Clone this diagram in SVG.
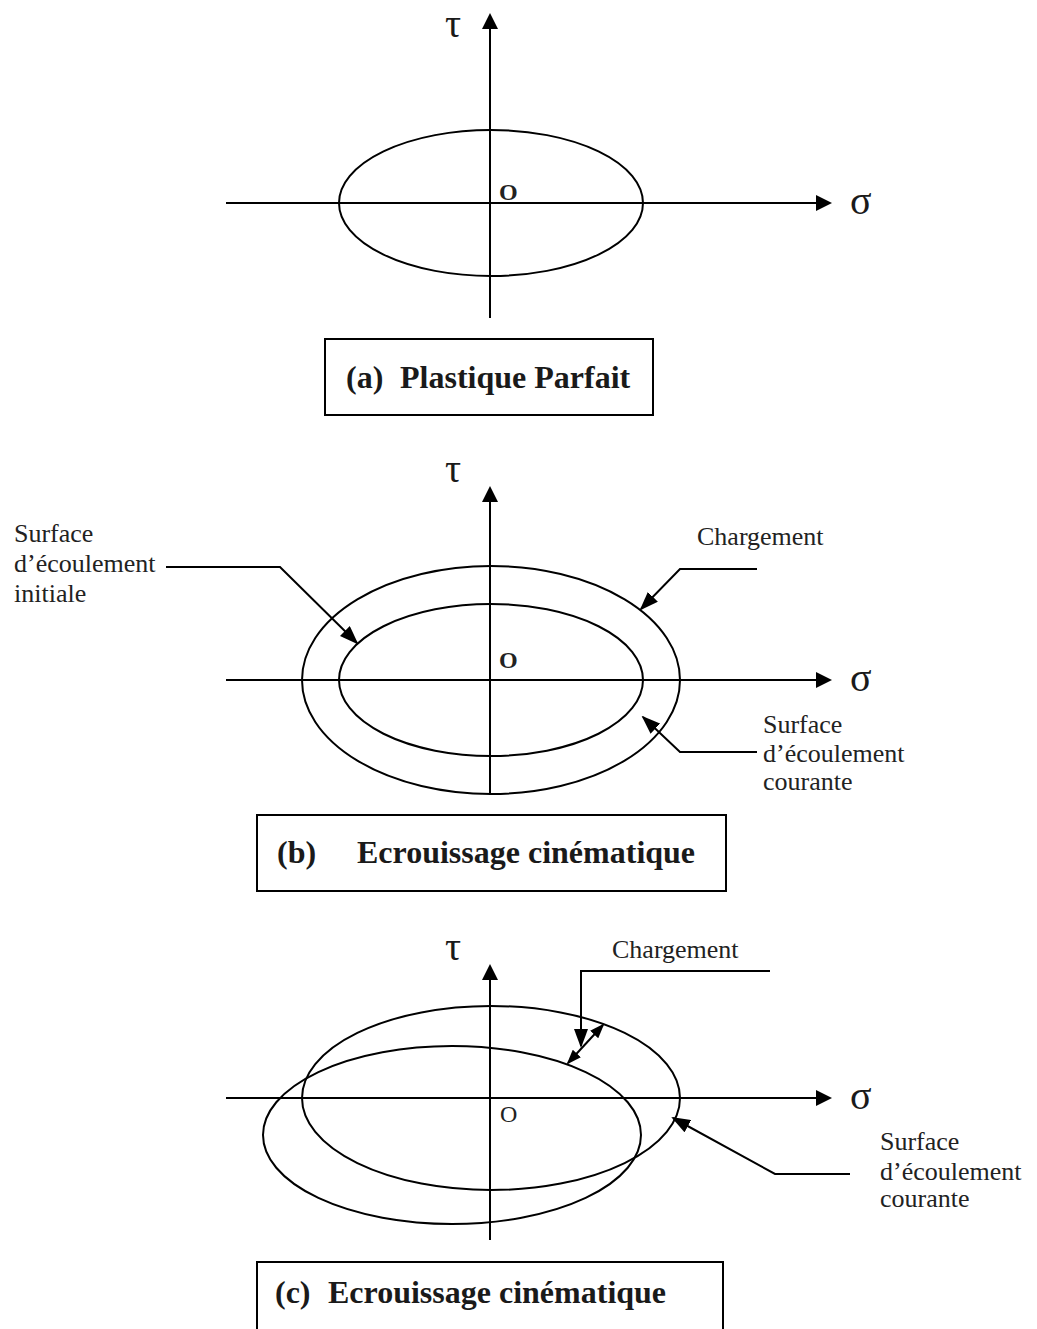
<svg xmlns="http://www.w3.org/2000/svg" width="1037" height="1329" viewBox="0 0 1037 1329">
  <style>
    .axis { stroke: #000; stroke-width: 2; fill: none; }
    .curve { stroke: #000; stroke-width: 2; fill: none; }
    .lead { stroke: #000; stroke-width: 2; fill: none; }
    .box { stroke: #000; stroke-width: 2; fill: #fff; }
    .greek { font-family: "Liberation Serif", "DejaVu Serif", serif; font-size: 40px; fill: #1a1a1a; }
    .lbl { font-family: "Liberation Serif", serif; font-size: 26px; fill: #222; }
    .title { font-family: "Liberation Serif", serif; font-size: 32px; font-weight: bold; fill: #1a1a1a; }
    .ob { font-family: "Liberation Serif", serif; font-size: 24px; font-weight: bold; fill: #222; }
    .or { font-family: "Liberation Serif", serif; font-size: 24px; fill: #222; }
  </style>
  <defs>
    <marker id="axisHead" markerUnits="userSpaceOnUse" markerWidth="16" markerHeight="16" refX="13" refY="8" orient="auto">
      <path d="M0,0 L16,8 L0,16 z" fill="#000"/>
    </marker>
    <marker id="leadHead" markerUnits="userSpaceOnUse" markerWidth="19" markerHeight="14" refX="17" refY="7" orient="auto">
      <path d="M0,0 L19,7 L0,14 z" fill="#000"/>
    </marker>
    <marker id="smallHead" markerUnits="userSpaceOnUse" markerWidth="15" markerHeight="11" refX="13" refY="5.5" orient="auto-start-reverse">
      <path d="M0,0 L15,5.5 L0,11 z" fill="#000"/>
    </marker>
  </defs>

  <rect width="1037" height="1329" fill="#fff"/>

  <!-- (a) perfectly plastic -->
  <g id="panel-a">
    <line class="axis" x1="490" y1="318" x2="490" y2="16" marker-end="url(#axisHead)"/>
    <line class="axis" x1="226" y1="203" x2="829" y2="203" marker-end="url(#axisHead)"/>
    <ellipse class="curve" cx="491" cy="203" rx="152" ry="73"/>
    <text class="greek" x="445" y="37">τ</text>
    <text class="greek" x="850" y="214">σ</text>
    <text class="ob" x="499" y="200">O</text>
  </g>
  <g id="caption-a">
    <rect class="box" x="325" y="339" width="328" height="76"/>
    <text class="title" x="346" y="388">(a)</text>
    <text class="title" x="400" y="388">Plastique Parfait</text>
  </g>

  <!-- (b) kinematic hardening, concentric surfaces -->
  <g id="panel-b">
    <line class="axis" x1="490" y1="795" x2="490" y2="489" marker-end="url(#axisHead)"/>
    <line class="axis" x1="226" y1="680" x2="829" y2="680" marker-end="url(#axisHead)"/>
    <ellipse class="curve" cx="491" cy="680" rx="189" ry="114"/>
    <ellipse class="curve" cx="491" cy="680" rx="152" ry="76"/>
    <text class="greek" x="445" y="482">τ</text>
    <text class="greek" x="850" y="691">σ</text>
    <text class="ob" x="499" y="668">O</text>
  </g>
  <g id="label-b-initiale">
    <text class="lbl" x="14" y="542">Surface</text>
    <text class="lbl" x="14" y="572">d’écoulement</text>
    <text class="lbl" x="14" y="602">initiale</text>
  </g>
  <g id="label-b-chargement">
    <text class="lbl" x="697" y="545">Chargement</text>
  </g>
  <g id="label-b-courante">
    <text class="lbl" x="763" y="733">Surface</text>
    <text class="lbl" x="763" y="762">d’écoulement</text>
    <text class="lbl" x="763" y="790">courante</text>
  </g>
  <g id="caption-b">
    <rect class="box" x="257" y="815" width="469" height="76"/>
    <text class="title" x="277" y="863">(b)</text>
    <text class="title" x="357" y="863">Ecrouissage cinématique</text>
  </g>

  <!-- (c) kinematic hardening, translated surface -->
  <g id="panel-c">
    <line class="axis" x1="490" y1="1240" x2="490" y2="967" marker-end="url(#axisHead)"/>
    <line class="axis" x1="226" y1="1098" x2="829" y2="1098" marker-end="url(#axisHead)"/>
    <ellipse class="curve" cx="491" cy="1098" rx="189" ry="92"/>
    <ellipse class="curve" cx="452" cy="1135" rx="189" ry="89"/>
    <text class="greek" x="445" y="960">τ</text>
    <text class="greek" x="850" y="1109">σ</text>
    <text class="or" x="500" y="1122">O</text>
  </g>
  <g id="label-c-chargement">
    <text class="lbl" x="612" y="958">Chargement</text>
  </g>
  <g id="label-c-courante">
    <text class="lbl" x="880" y="1150">Surface</text>
    <text class="lbl" x="880" y="1180">d’écoulement</text>
    <text class="lbl" x="880" y="1207">courante</text>
  </g>
  <g id="caption-c">
    <rect class="box" x="257" y="1262" width="466" height="80"/>
    <text class="title" x="275" y="1303">(c)</text>
    <text class="title" x="328" y="1303">Ecrouissage cinématique</text>
  </g>

  <!-- leader lines -->
  <g id="connectors">
    <polyline class="lead" points="166,567 280,567 357,643" marker-end="url(#leadHead)"/>
    <polyline class="lead" points="757,569 680,569 641,609" marker-end="url(#leadHead)"/>
    <polyline class="lead" points="757,752 680,752 643,717" marker-end="url(#leadHead)"/>
    <polyline class="lead" points="770,971 581,971 581,1046" marker-end="url(#leadHead)"/>
    <line class="lead" x1="568" y1="1063" x2="603" y2="1025" marker-start="url(#smallHead)" marker-end="url(#smallHead)"/>
    <polyline class="lead" points="850,1174 775,1174 673,1118" marker-end="url(#leadHead)"/>
  </g>
</svg>
